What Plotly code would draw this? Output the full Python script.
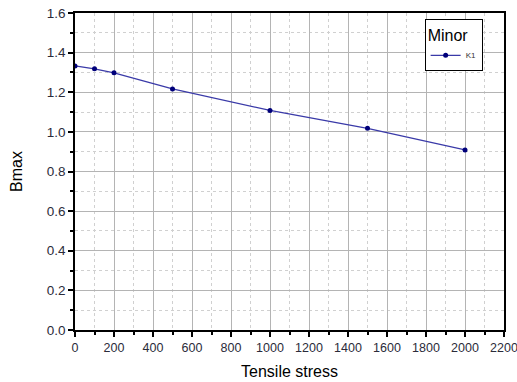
import plotly.graph_objects as go

stress = [0, 100, 200, 500, 1000, 1500, 2000]
bmax_k1 = [1.333, 1.318, 1.298, 1.217, 1.108, 1.018, 0.909]
series_name = "K1"
legend_title = "Minor"

fig = go.Figure()
fig.add_trace(go.Scatter(
    x=stress, y=bmax_k1, name=series_name, mode="lines+markers",
    line=dict(color="#3a3aa8", width=1.3),
    marker=dict(color="#00007a", size=5, symbol="circle"),
))

axis_common = dict(
    showline=True, linecolor="black", linewidth=1.5, mirror=True,
    ticks="outside", ticklen=5, tickwidth=1.5, tickcolor="black",
    showgrid=True, gridcolor="#b4b4b4", gridwidth=1,
    zeroline=False, ticklabeloverflow="allow",
    minor=dict(ticks="outside", ticklen=3, tickwidth=1.5, tickcolor="black",
               showgrid=True, gridcolor="#d0d0d0", griddash="3px,3px", gridwidth=1),
)

fig.update_xaxes(range=[0, 2200], dtick=200, minor_dtick=100,
                 tickfont=dict(family="Arial", size=12.5, color="#2b2b3a"),
                 title=dict(text="Tensile stress", font=dict(family="Arial", size=16, color="black"), standoff=12),
                 **axis_common)
fig.update_yaxes(range=[0, 1.6], dtick=0.2, minor_dtick=0.1, tickformat=".1f",
                 tickfont=dict(family="Arial", size=13.5, color="#2b2b3a"),
                 title=dict(text="Bmax", font=dict(family="Arial", size=16, color="black"), standoff=20),
                 **axis_common)

fig.update_layout(
    width=517, height=382,
    margin=dict(l=75, r=13, t=13, b=52, autoexpand=False),
    plot_bgcolor="white", paper_bgcolor="white",
    showlegend=True,
    legend=dict(
        title=dict(text=legend_title, font=dict(family="Arial", size=16, color="black")),
        font=dict(family="Arial", size=8, color="#333"),
        x=0.815, y=0.981, xanchor="left", yanchor="top",
        bgcolor="white", bordercolor="black", borderwidth=1,
        itemwidth=30, tracegroupgap=0,
    ),
)

fig.write_html("out.html")
